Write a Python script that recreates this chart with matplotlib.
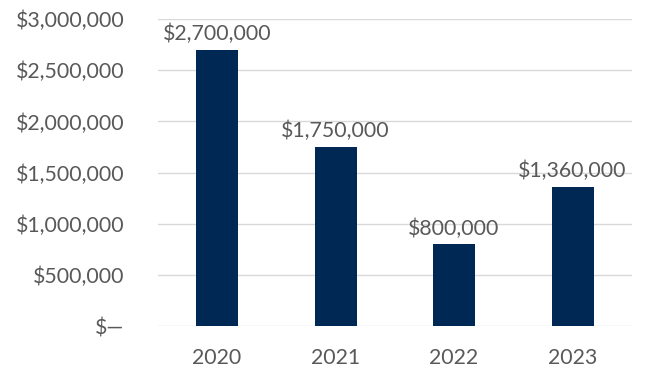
import matplotlib
matplotlib.use('Agg')
from matplotlib import pyplot as plt
from matplotlib.ticker import FuncFormatter

years = ['2020', '2021', '2022', '2023']
values = [2700000, 1750000, 800000, 1360000]
y_ticks = [0, 500000, 1000000, 1500000, 2000000, 2500000, 3000000]

bar_color = '#002855'
text_color = '#595959'
grid_color = '#d9d9d9'

plt.rcParams['font.family'] = ['Lato', 'DejaVu Sans']


def money(v, pos=None):
	if v == 0:
		return '$\u2014'
	return '${:,.0f}'.format(v)


fig = plt.figure(figsize=(6.52, 3.90), dpi=100)
ax = fig.add_axes([0.242, 0.164, 0.727, 0.787])

x = range(len(years))
bars = ax.bar(x, values, width=0.355, color=bar_color, zorder=3)

# data labels above bars
for b, v in zip(bars, values):
	ax.annotate(money(v), (b.get_x() + b.get_width()/2, v), xytext=(0, 4),
				textcoords='offset points', ha='center', va='bottom',
				fontsize=15.3, color=text_color)

ax.set_xlim(-0.5, len(years) - 0.5)
ax.set_ylim(0, 3000000)
ax.set_yticks(y_ticks)
ax.yaxis.set_major_formatter(FuncFormatter(money))
ax.set_xticks(list(x))
ax.set_xticklabels(years)

ax.grid(axis='y', color=grid_color, linewidth=1, zorder=0)
for s in ax.spines.values():
	s.set_visible(False)
ax.tick_params(axis='both', length=0, labelsize=15.3, labelcolor=text_color)
ax.tick_params(axis='y', pad=24)
ax.tick_params(axis='x', pad=16)

fig.savefig('out.png', dpi=100)
